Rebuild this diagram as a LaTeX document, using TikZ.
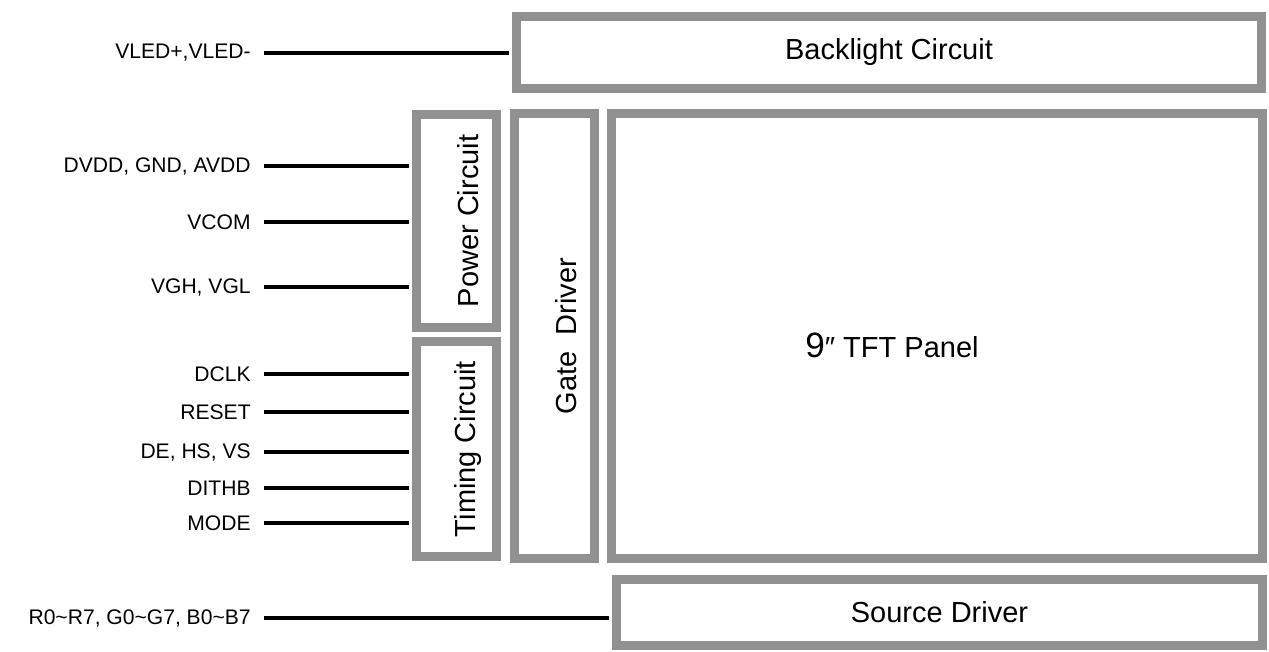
\documentclass[tikz,border=0pt]{standalone}
\usepackage{fontspec}
\setmainfont{Liberation Sans}
\usepackage{xcolor}
\usepackage{tikz}
\usetikzlibrary{positioning}
\definecolor{boxgray}{RGB}{145,145,145}

\begin{document}
\begin{tikzpicture}[x=0.02cm, y=-0.02cm,
  blk/.style={draw=boxgray, line width=5.1pt, inner sep=0pt, font=\fontsize{16.5}{18}\selectfont},
  blktext/.style={rotate=90, inner sep=0pt, font=\fontsize{16.5}{18}\selectfont},
  sig/.style={anchor=east, inner xsep=0.26cm, inner ysep=0pt, font=\fontsize{12}{14}\selectfont},
  wire/.style={line width=2.7pt, shorten >=0.07cm}]
\useasboundingbox (0,0) rectangle (1269,652);

% blocks
\node[blk, minimum width=14.9cm, minimum height=1.44cm] (backlight) at (889,52.5) {Backlight Circuit};
\node[blk, minimum width=1.6cm, minimum height=4.26cm] (power) at (456.5,221) {};
\node[blk, minimum width=1.6cm, minimum height=4.3cm] (timing) at (456.5,449) {};
\node[blk, minimum width=1.6cm, minimum height=8.9cm] (gate) at (554.5,336) {};
\node[blk, minimum width=13.02cm, minimum height=8.9cm] (panel) at (937,336) {};
\node[blk, minimum width=12.92cm, minimum height=1.32cm] (source) at (939.5,612.5) {Source Driver};

\node[blktext] (powertxt) at ([xshift=0.23cm]power.center) {Power Circuit};
\node[blktext] (timingtxt) at ([xshift=0.23cm]timing.center) {Timing Circuit};
\node[blktext] (gatetxt) at ([xshift=0.23cm]gate.center) {Gate\ \ Driver};
\node[inner sep=0pt, font=\fontsize{16.5}{18}\selectfont] (paneltxt) at (892,345) {{\fontsize{20}{22}\selectfont 9}″ TFT Panel};

% signals
\node[sig] (vled) at (264,53) {VLED+,VLED-};
\node[sig] (dvdd) at (264,166) {DVDD, GND, AVDD};
\node[sig] (vcom) at (264,222) {VCOM};
\node[sig] (vgh) at (264,287) {VGH, VGL};
\node[sig] (dclk) at (264,374) {DCLK};
\node[sig] (reset) at (264,412) {RESET};
\node[sig] (dehsvs) at (264,452) {DE, HS, VS};
\node[sig] (dithb) at (264,488) {DITHB};
\node[sig] (mode) at (264,523) {MODE};
\node[sig] (rgb) at (264,618) {R0\textasciitilde R7, G0\textasciitilde G7, B0\textasciitilde B7};

\draw[wire] (vled.east) -- (vled.east -| backlight.west);
\draw[wire] (dvdd.east) -- (dvdd.east -| power.west);
\draw[wire] (vcom.east) -- (vcom.east -| power.west);
\draw[wire] (vgh.east) -- (vgh.east -| power.west);
\draw[wire] (dclk.east) -- (dclk.east -| timing.west);
\draw[wire] (reset.east) -- (reset.east -| timing.west);
\draw[wire] (dehsvs.east) -- (dehsvs.east -| timing.west);
\draw[wire] (dithb.east) -- (dithb.east -| timing.west);
\draw[wire] (mode.east) -- (mode.east -| timing.west);
\draw[wire] (rgb.east) -- (rgb.east -| source.west);
\end{tikzpicture}
\end{document}
